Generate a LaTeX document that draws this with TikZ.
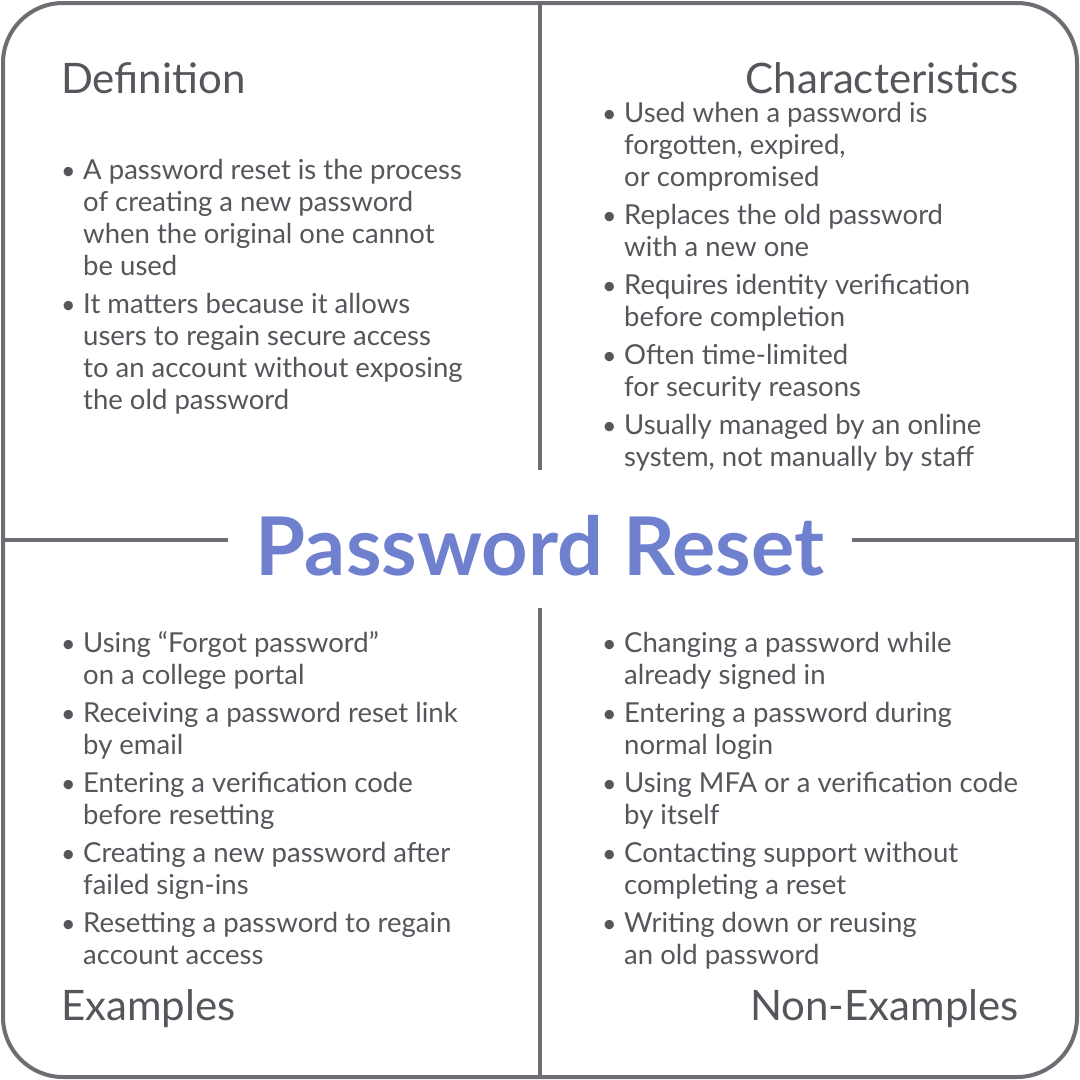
\documentclass[tikz,border=0pt]{standalone}
\usepackage{fontspec}
\setmainfont{Lato}
\definecolor{frame}{HTML}{6D6E73}
\definecolor{txt}{HTML}{55565B}
\definecolor{ttl}{HTML}{6F80CF}
\newcommand{\blines}[1]{\begin{tabular}[t]{@{}l@{}}#1\end{tabular}}
\begin{document}
\begin{tikzpicture}[x=1pt,y=-1pt,
  body/.style={font=\fontsize{27.5}{32}\selectfont,text=txt,anchor=base west,inner sep=0pt},
  dot/.style={font=\fontsize{25}{32}\selectfont,text=txt,anchor=base west,inner sep=0pt},
  head/.style={font=\fontsize{42}{44}\selectfont,text=txt,inner sep=0pt},
  ln/.style={draw=frame,line width=4pt}]
\useasboundingbox (0,0) rectangle (1080,1080);
\draw[ln,rounded corners=60pt] (3,3) rectangle (1077,1077);
\coordinate (vt) at (540,3); \coordinate (vb) at (540,470);
\coordinate (vt2) at (540,608); \coordinate (vb2) at (540,1077);
\coordinate (hl) at (3,540); \coordinate (hr) at (228,540);
\coordinate (hl2) at (852,540); \coordinate (hr2) at (1077,540);
\draw[ln] (vt)--(vb); \draw[ln] (vt2)--(vb2);
\draw[ln] (hl)--(hr); \draw[ln] (hl2)--(hr2);
\node[font=\fontsize{81}{82}\selectfont\bfseries,text=ttl,inner sep=0pt] (title) at (540,546) {Password Reset};
\node[head,anchor=base west] (h1) at (61,93) {Definition};
\node[head,anchor=base east] (h2) at (1019,93) {Characteristics};
\node[head,anchor=base west] (h3) at (61,1020) {Examples};
\node[head,anchor=base east] (h4) at (1019,1020) {Non-Examples};
% Definition
\foreach \y/\t [count=\i] in {179/{A password reset is the process\\of creating a new password\\when the original one cannot\\be used},313/{It matters because it allows\\users to regain secure access\\to an account without exposing\\the old password}}{
  \node[dot] (d\i) at (61,\y) {•};
  \node[body] (dt\i) at (83,\y) {\blines{\t}};}
% Characteristics
\foreach \y/\t [count=\i] in {122/{Used when a password is\\forgotten, expired,\\or compromised},224/{Replaces the old password\\with a new one},294/{Requires identity verification\\before completion},364/{Often time-limited\\for security reasons},434/{Usually managed by an online\\system, not manually by staff}}{
  \node[dot] (c\i) at (602,\y) {•};
  \node[body] (ct\i) at (624,\y) {\blines{\t}};}
% Examples
\foreach \y/\t [count=\i] in {652/{Using “Forgot password”\\on a college portal},722/{Receiving a password reset link\\by email},792/{Entering a verification code\\before resetting},862/{Creating a new password after\\failed sign-ins},932/{Resetting a password to regain\\account access}}{
  \node[dot] (e\i) at (61,\y) {•};
  \node[body] (et\i) at (83,\y) {\blines{\t}};}
% Non-examples
\foreach \y/\t [count=\i] in {652/{Changing a password while\\already signed in},722/{Entering a password during\\normal login},792/{Using MFA or a verification code\\by itself},862/{Contacting support without\\completing a reset},932/{Writing down or reusing\\an old password}}{
  \node[dot] (n\i) at (602,\y) {•};
  \node[body] (nt\i) at (624,\y) {\blines{\t}};}
\end{tikzpicture}
\end{document}
